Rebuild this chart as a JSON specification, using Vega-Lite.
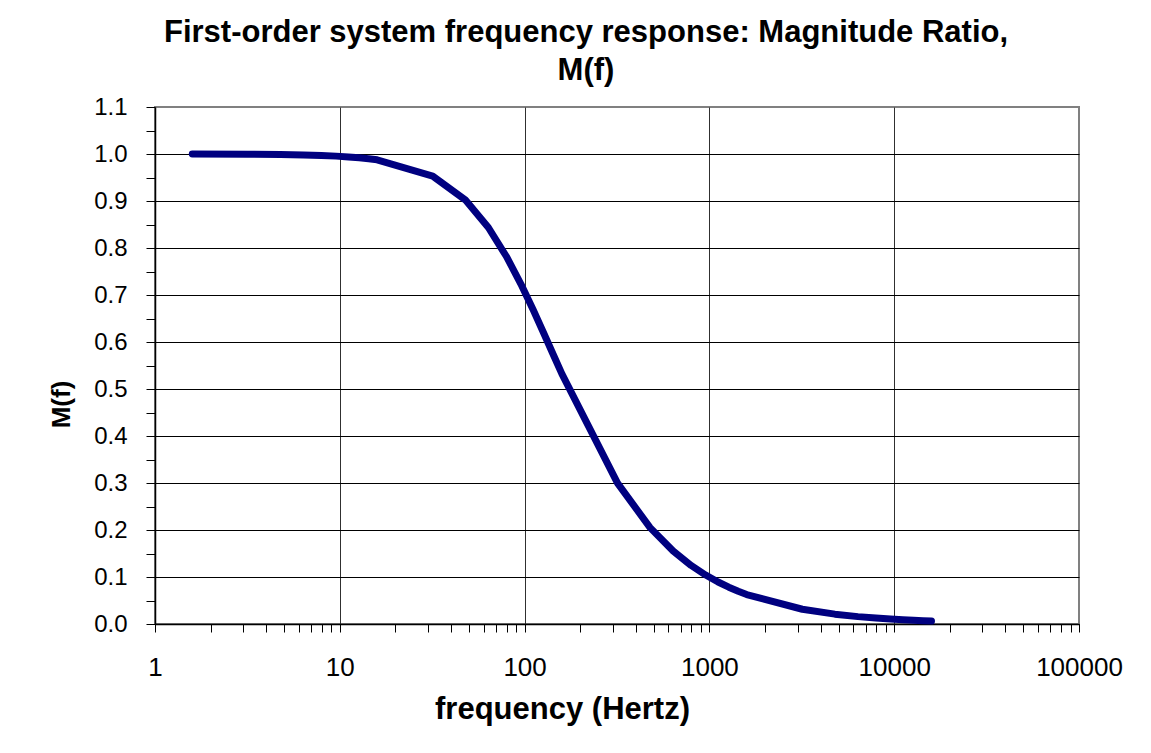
{
  "$schema": "https://vega.github.io/schema/vega-lite/v6.json",
  "autosize": {"type": "none"},
  "padding": {"left": 155, "top": 107, "right": 72, "bottom": 129},
  "width": 924,
  "height": 517,
  "background": "white",
  "config": {
    "view": {"stroke": "#808080", "strokeWidth": 2},
    "font": "Liberation Sans"
  },
  "title": {
    "text": ["First-order system frequency response: Magnitude Ratio,", "M(f)"],
    "font": "Liberation Sans",
    "fontSize": 31,
    "fontWeight": "bold",
    "color": "black",
    "anchor": "middle",
    "frame": "group",
    "dx": -31,
    "lineHeight": 38,
    "offset": 8
  },
  "data": {
    "values": [
      {"f": 1.5915, "M": 0.99987},
      {"f": 3.1831, "M": 0.99949},
      {"f": 4.7746, "M": 0.99886},
      {"f": 6.3662, "M": 0.99798},
      {"f": 7.9577, "M": 0.99685},
      {"f": 9.5493, "M": 0.99548},
      {"f": 11.141, "M": 0.99385},
      {"f": 12.732, "M": 0.992},
      {"f": 14.324, "M": 0.98994},
      {"f": 15.915, "M": 0.98757},
      {"f": 31.831, "M": 0.95289},
      {"f": 47.746, "M": 0.90242},
      {"f": 63.662, "M": 0.84357},
      {"f": 79.577, "M": 0.78248},
      {"f": 95.493, "M": 0.72322},
      {"f": 111.41, "M": 0.66798},
      {"f": 127.32, "M": 0.61766},
      {"f": 143.24, "M": 0.57244},
      {"f": 159.15, "M": 0.53202},
      {"f": 318.31, "M": 0.29972},
      {"f": 477.46, "M": 0.20499},
      {"f": 636.62, "M": 0.15518},
      {"f": 795.77, "M": 0.12468},
      {"f": 954.93, "M": 0.10415},
      {"f": 1114.1, "M": 0.0894},
      {"f": 1273.2, "M": 0.0783},
      {"f": 1432.4, "M": 0.06964},
      {"f": 1591.5, "M": 0.06271},
      {"f": 3183.1, "M": 0.0314},
      {"f": 4774.6, "M": 0.02094},
      {"f": 6366.2, "M": 0.01571},
      {"f": 7957.7, "M": 0.01257},
      {"f": 9549.3, "M": 0.01047},
      {"f": 11141, "M": 0.00898},
      {"f": 12732, "M": 0.00785},
      {"f": 14324, "M": 0.00698},
      {"f": 15915, "M": 0.00628}
    ]
  },
  "mark": {"type": "line", "color": "#000080", "strokeWidth": 7, "strokeCap": "round", "strokeJoin": "round", "clip": false},
  "encoding": {
    "x": {
      "field": "f",
      "type": "quantitative",
      "scale": {"type": "log", "domain": [1, 100000], "nice": false},
      "axis": {
        "title": "frequency (Hertz)",
        "titleFont": "Liberation Sans",
        "titleFontSize": 31,
        "titleFontWeight": "bold",
        "titleColor": "black",
        "titleX": 407,
        "titleY": 94,
        "titleAlign": "center",
        "titleBaseline": "alphabetic",
        "values": [1,2,3,4,5,6,7,8,9,10,20,30,40,50,60,70,80,90,100,200,300,400,500,600,700,800,900,1000,2000,3000,4000,5000,6000,7000,8000,9000,10000,20000,30000,40000,50000,60000,70000,80000,90000,100000],
        "format": "d",
        "labelExpr": "indexof([1,10,100,1000,10000,100000], datum.value) >= 0 ? datum.label : ''",
        "labelFont": "Liberation Sans",
        "labelFontSize": 26,
        "labelColor": "black",
        "labelBaseline": "top",
        "labelPadding": 22,
        "labelFlush": false,
        "labelOverlap": false,
        "domainColor": "black",
        "domainWidth": 1.5,
        "tickColor": "black",
        "tickWidth": 1,
        "tickSize": 8,
        "grid": true,
        "gridColor": "#303030",
        "gridWidth": 1,
        "gridOpacity": {"condition": {"test": "indexof([10,100,1000,10000], datum.value) >= 0", "value": 1}, "value": 0},
        "encode": {
          "ticks": {
            "update": {
              "y": [{"test": "indexof([1,10,100,1000,10000,100000], datum.value) >= 0", "value": 0}, {"value": -6}],
              "y2": [{"test": "indexof([1,10,100,1000,10000,100000], datum.value) >= 0", "value": 8}, {"value": 6}]
            }
          }
        }
      }
    },
    "y": {
      "field": "M",
      "type": "quantitative",
      "scale": {"domain": [0, 1.1], "nice": false, "zero": false},
      "axis": {
        "title": "M(f)",
        "titleFont": "Liberation Sans",
        "titleFontSize": 26,
        "titleFontWeight": "bold",
        "titleColor": "black",
        "titleAngle": -90,
        "titleX": -94,
        "titleY": 297,
        "titleAlign": "center",
        "titleBaseline": "middle",
        "values": [0,0.05,0.1,0.15,0.2,0.25,0.3,0.35,0.4,0.45,0.5,0.55,0.6,0.65,0.7,0.75,0.8,0.85,0.9,0.95,1,1.05,1.1],
        "format": ".1f",
        "labelExpr": "round(datum.value*20) % 2 == 0 ? datum.label : ''",
        "labelFont": "Liberation Sans",
        "labelFontSize": 24,
        "labelColor": "black",
        "labelBaseline": "middle",
        "labelPadding": 19,
        "labelFlush": false,
        "labelOverlap": false,
        "domainColor": "black",
        "domainWidth": 1.5,
        "tickColor": "black",
        "tickWidth": 1,
        "tickSize": 9,
        "grid": true,
        "gridColor": "black",
        "gridWidth": 1,
        "gridOpacity": {"condition": {"test": "round(datum.value*20) % 2 == 0 && datum.value < 1.05", "value": 1}, "value": 0},
        "encode": {
          "ticks": {
            "update": {
              "x2": [{"test": "round(datum.value*20) % 2 == 0", "value": -9}, {"value": -6}]
            }
          }
        }
      }
    }
  }
}
